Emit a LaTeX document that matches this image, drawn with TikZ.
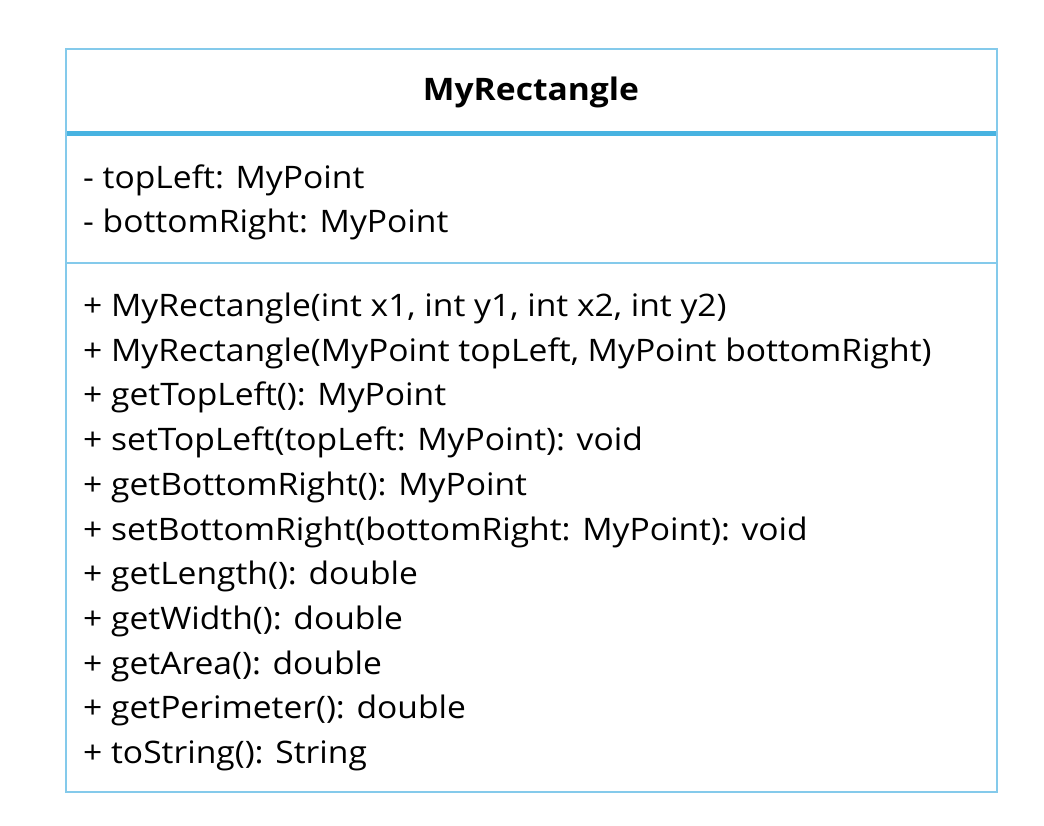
\documentclass[tikz,border=0pt]{standalone}
\usepackage{fontspec}
\setmainfont[FakeStretch=1.084]{Open Sans}
\begin{document}
\begin{tikzpicture}[x=1pt,y=-1pt,
  frame/.style={draw=umlborder,line width=2pt},
  member/.style={anchor=base west,inner sep=0pt,font=\fontsize{31}{37}\selectfont},
  title/.style={anchor=base,inner sep=0pt,font=\fontsize{31}{37}\selectfont\bfseries}]
\definecolor{umlborder}{HTML}{84CAEB}
\definecolor{umlhead}{HTML}{48B3E1}
\useasboundingbox (0,0) rectangle (1044,826);
\fill[white] (0,0) rectangle (1044,826);
% class box and compartments
\draw[frame] (66,49) rectangle (997,792);
\draw[draw=umlhead,line width=4.5pt] (67,133.5) -- (996,133.5);
\draw[frame] (67,263) -- (996,263);
% class name
\node[title] (name) at (531,100.5) {MyRectangle};
% attributes
\node[member] (a1) at (83,188.5) {- topLeft: MyPoint};
\node[member] (a2) at (83,233) {- bottomRight: MyPoint};
% operations
\node[member] (m1) at (83,316.5) {+ MyRectangle(int x1, int y1, int x2, int y2)};
\node[member] (m2) at (83,361.2) {+ MyRectangle(MyPoint topLeft, MyPoint bottomRight)};
\node[member] (m3) at (83,405.9) {+ getTopLeft(): MyPoint};
\node[member] (m4) at (83,450.6) {+ setTopLeft(topLeft: MyPoint): void};
\node[member] (m5) at (83,495.3) {+ getBottomRight(): MyPoint};
\node[member] (m6) at (83,540) {+ setBottomRight(bottomRight: MyPoint): void};
\node[member] (m7) at (83,584.7) {+ getLength(): double};
\node[member] (m8) at (83,629.4) {+ getWidth(): double};
\node[member] (m9) at (83,674.1) {+ getArea(): double};
\node[member] (m10) at (83,718.8) {+ getPerimeter(): double};
\node[member] (m11) at (83,763.5) {+ toString(): String};
\end{tikzpicture}
\end{document}
